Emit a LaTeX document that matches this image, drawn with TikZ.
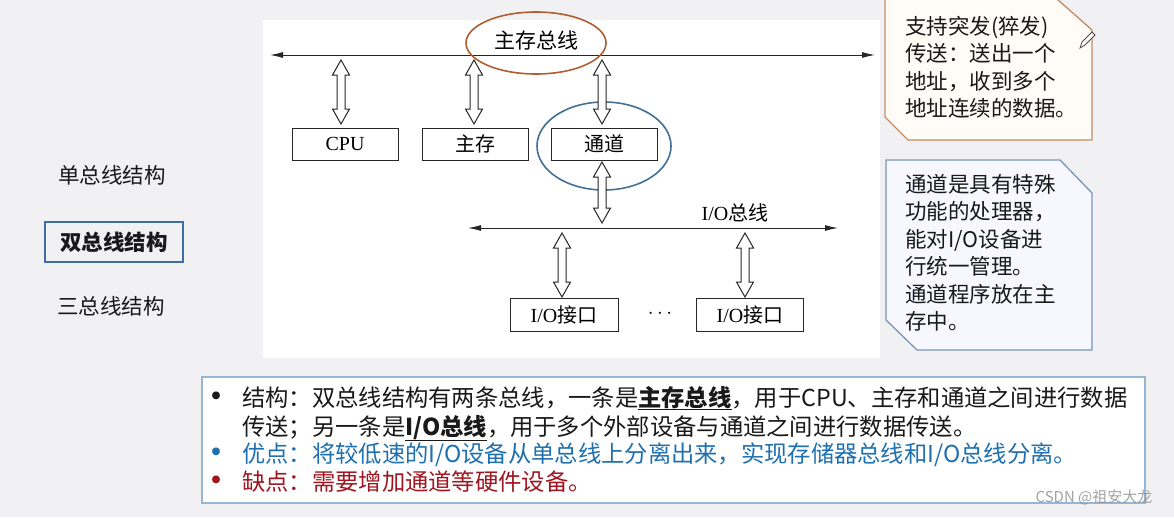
\documentclass[tikz,border=0pt]{standalone}
\usepackage{fontspec}
\setmainfont{Liberation Serif}
\newfontfamily\cjk{Noto Sans CJK SC}
\usetikzlibrary{arrows.meta,calc,shapes.geometric}
\definecolor{bgcol}{RGB}{241,241,243}
\definecolor{orangeline}{RGB}{176,94,48}
\definecolor{blueline}{RGB}{68,112,150}
\definecolor{noteorange}{RGB}{196,140,100}
\definecolor{noteblue}{RGB}{120,150,180}
\definecolor{boxblue}{RGB}{150,182,212}
\definecolor{labelblue}{RGB}{60,110,165}
\definecolor{txtblue}{RGB}{30,112,175}
\definecolor{txtred}{RGB}{160,22,32}
\definecolor{txtblack}{RGB}{25,25,25}
\tikzset{
  comp/.style={draw=black!85, line width=0.9pt, minimum width=106pt, minimum height=32pt, inner sep=0pt, font=\fontsize{20}{22}\selectfont},
  bus/.style={draw=black!85, line width=1pt, {Latex[length=13pt,width=6pt]}-{Latex[length=13pt,width=6pt]}},
  hollow/.style={draw=black!85, line width=1pt, fill=white},
  notetxt/.style={font=\cjk\fontsize{21.5}{27.5}\selectfont, text=txtblack, align=left, anchor=north west, inner sep=0pt},
  sidelbl/.style={font=\cjk\fontsize{21.5}{24}\selectfont, text=txtblack, inner sep=0pt},
  linetxt/.style={font=\cjk\fontsize{23.3}{28}\selectfont, anchor=base west, inner sep=0pt},
  bullet/.style={font=\cjk\bfseries\fontsize{28}{28}\selectfont, anchor=base, inner sep=0pt}
}
% hollow double-headed arrow between two named points (same x), #1 upper, #2 lower
\newcommand\harrow[2]{%
  \path[hollow] let \p1=(#1), \p2=(#2) in
   (\x1,\y1) -- (\x1+8.5pt,\y1-15pt) -- (\x1+4pt,\y1-15pt) -- (\x1+4pt,\y2+15pt)
   -- (\x1+8.5pt,\y2+15pt) -- (\x1,\y2) -- (\x1-8.5pt,\y2+15pt) -- (\x1-4pt,\y2+15pt)
   -- (\x1-4pt,\y1-15pt) -- (\x1-8.5pt,\y1-15pt) -- cycle;}
\begin{document}
\begin{tikzpicture}[x=1pt,y=-1pt]
\useasboundingbox (0,0) rectangle (1174,517);
\fill[bgcol] (0,0) rectangle (1174,517);
\fill[white] (263,20) rectangle (880,358);

% ---- main bus ----
\coordinate (busL) at (270,55);
\coordinate (busR) at (875,55);
\draw[bus] (busL) -- (busR);
\node[font=\cjk\fontsize{21}{24}\selectfont, inner sep=0pt] (busname) at (536,40) {主存总线};
\draw[orangeline, line width=1.6pt] (536,43) ellipse [x radius=70, y radius=31];

% ---- components ----
\node[comp] (cpu) at (345,144) {CPU};
\node[comp, font=\cjk\fontsize{20}{22}\selectfont] (mem) at (475,144) {主存};
\node[comp, font=\cjk\fontsize{20}{22}\selectfont] (chan) at (604,144) {通道};
\draw[blueline, line width=1.6pt] (604,146) ellipse [x radius=67, y radius=44];

\coordinate (t1) at (341,60);  \coordinate (b1) at (341,124);
\coordinate (t2) at (474,60);  \coordinate (b2) at (474,124);
\coordinate (t3) at (602,60);  \coordinate (b3) at (602,124);
\harrow{t1}{b1}
\harrow{t2}{b2}
\harrow{t3}{b3}

% ---- I/O bus ----
\coordinate (ioL) at (468,228);
\coordinate (ioR) at (838,228);
\draw[bus] (ioL) -- (ioR);
\node[inner sep=0pt] (ioname) at (735,213) {\fontsize{20}{22}\selectfont I/O{\cjk 总线}};
\coordinate (t4) at (602,162); \coordinate (b4) at (602,223);
\harrow{t4}{b4}

\node[comp, minimum width=108pt, minimum height=33pt] (io1) at (564,315) {I/O{\cjk 接口}};
\node[comp, minimum width=107pt, minimum height=33pt] (io2) at (750,315) {I/O{\cjk 接口}};
\node[inner sep=0pt, font=\fontsize{20}{22}\selectfont] (dots) at (660,314) {$\cdots$};
\coordinate (t5) at (562,233); \coordinate (b5) at (562,297);
\coordinate (t6) at (745,233); \coordinate (b6) at (745,297);
\harrow{t5}{b5}
\harrow{t6}{b6}

% ---- side labels ----
\node[sidelbl] (single) at (112,175) {单总线结构};
\node[sidelbl, font=\cjk\bfseries\fontsize{21.5}{24}\selectfont] (double) at (114,242) {双总线结构};
\draw[labelblue, line width=1.6pt] (45,222) rectangle (183,262);
\node[sidelbl] (triple) at (111,306) {三总线结构};

% ---- note 1 ----
\draw[noteorange, line width=1.3pt, fill=white!97!orange] (885,-1) -- (1057,-1) -- (1092,30) -- (1092,140) -- (908,140) -- (885,117) -- cycle;
\node[notetxt] (note1) at (905,16) {支持突发(猝发)\\传送：送出一个\\地址，收到多个\\地址连续的数据。};
\draw[black!70, line width=0.8pt, fill=white] (1080,48) -- (1082,42) -- (1092,32) -- (1095,35) -- (1085,45) -- cycle;

% ---- note 2 ----
\draw[noteblue, line width=1.3pt, fill=white!97!blue] (886,160) -- (1060,160) -- (1092,193) -- (1092,350) -- (917,350) -- (886,320) -- cycle;
\node[notetxt] (note2) at (905,174) {通道是具有特殊\\功能的处理器，\\能对I/O设备进\\行统一管理。\\通道程序放在主\\存中。};

% ---- bottom box ----
\draw[boxblue, line width=1.3pt, fill=white] (202,377) rectangle (1145,503);
\node[bullet, text=txtblack] (b1dot) at (216,406) {•};
\node[linetxt, text=txtblack] (l1) at (242,406) {结构：双总线结构有两条总线，一条是\underline{\textbf{主存总线}}，用于CPU、主存和通道之间进行数据};
\node[linetxt, text=txtblack] (l2) at (242,435) {传送；另一条是\underline{\textbf{I/O总线}}，用于多个外部设备与通道之间进行数据传送。};
\node[bullet, text=txtblue] (b3dot) at (216,462) {•};
\node[linetxt, text=txtblue] (l3) at (242,462) {优点：将较低速的I/O设备从单总线上分离出来，实现存储器总线和I/O总线分离。};
\node[bullet, text=txtred] (b4dot) at (216,490) {•};
\node[linetxt, text=txtred] (l4) at (242,490) {缺点：需要增加通道等硬件设备。};

% ---- watermark ----
\node[font=\cjk\fontsize{15}{18}\selectfont, text=black!45, opacity=0.8, inner sep=0pt] (wm) at (1094,497) {CSDN @祖安大龙};
\end{tikzpicture}
\end{document}
